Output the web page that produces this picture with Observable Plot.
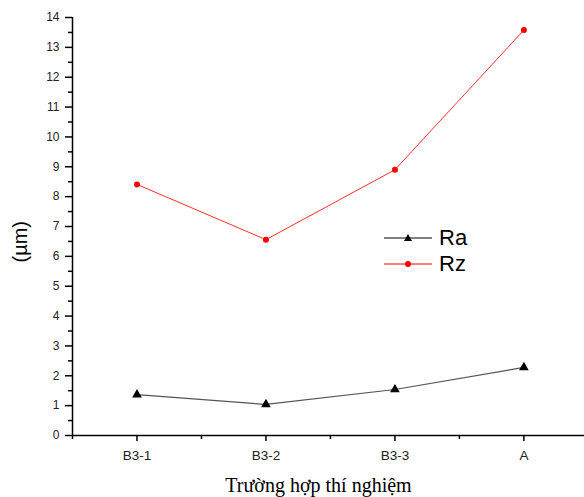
<!DOCTYPE html>
<html><head><meta charset="utf-8">
<script src="https://cdn.jsdelivr.net/npm/d3@7"></script>
<script src="https://cdn.jsdelivr.net/npm/@observablehq/plot@0.6"></script>
<style>
body{margin:0;background:#fff;}
#wrap{position:relative;width:584px;height:497px;}
#legend{position:absolute;left:384px;top:225px;font-family:"Liberation Sans",Arial,sans-serif;font-size:22px;}
#legend div{display:flex;align-items:center;height:26px;}
</style>
</head><body>
<div id="wrap"><div id="chart"></div>
<div id="legend"></div></div>
<script>
const categories = ["B3-1","B3-2","B3-3","A"];
const raValues = [1.37, 1.04, 1.54, 2.28];
const rzValues = [8.41, 6.56, 8.90, 13.58];
const yTicks = [0,1,2,3,4,5,6,7,8,9,10,11,12,13,14];

const ra = categories.map((c,i)=>({i:i+1, v:raValues[i]}));
const rz = categories.map((c,i)=>({i:i+1, v:rzValues[i]}));
const font = "'Liberation Sans', Arial, sans-serif";

const chart = Plot.plot({
  width:584, height:497,
  marginLeft:72, marginRight:0, marginTop:17, marginBottom:62,
  style:{fontFamily:font, fontSize:"12px", color:"#000", background:"#fff"},
  x:{type:"linear", domain:[0.5, 4.47]},
  y:{domain:[0,14]},
  marks:[
    Plot.axisY({ticks:yTicks, tickSize:7, tickPadding:6, fontSize:12, label:null, strokeWidth:1.5, fill:"#222"}),
    Plot.axisY({ticks:d3.range(0.5,14,1), tickSize:4, tickFormat:()=>"", label:null, strokeWidth:1.5}),
    Plot.axisX({ticks:[1,2,3,4], tickFormat:d=>categories[d-1], tickSize:6, tickPadding:9, fontSize:13.5, label:null, strokeWidth:1.5, fill:"#222"}),
    Plot.axisX({ticks:[0.5,1.5,2.5,3.5], tickSize:4, tickFormat:()=>"", label:null, strokeWidth:1.5}),
    Plot.ruleX([0.5], {stroke:"#000", strokeWidth:1.5}),
    Plot.ruleY([0], {stroke:"#000", strokeWidth:1.5}),
    Plot.line(ra, {x:"i", y:"v", stroke:"#555", strokeWidth:1.2}),
    Plot.dot(ra, {x:"i", y:"v", symbol:"triangle", r:3.6, fill:"#000", stroke:"none"}),
    Plot.line(rz, {x:"i", y:"v", stroke:"#ff3030", strokeWidth:1}),
    Plot.dot(rz, {x:"i", y:"v", r:3, fill:"#ff0000", stroke:"none"}),
    Plot.text(["(µm)"], {frameAnchor:"left", dx:-52, dy:36, rotate:-90, fontSize:20, fill:"#000"}),
    Plot.text(["Trường hợp thí nghiệm"], {frameAnchor:"bottom", dy:56, dx:-10, fontSize:20, fontFamily:"'Liberation Serif', 'Times New Roman', serif", fill:"#000"})
  ]
});
document.getElementById("chart").appendChild(chart);

const legendItems = [
  {name:"Ra", stroke:"#000", fill:"#000", sym:"tri"},
  {name:"Rz", stroke:"#ff0000", fill:"#ff0000", sym:"dot"}
];
const leg = document.getElementById("legend");
legendItems.forEach(it=>{
  const row = document.createElement("div");
  const marker = it.sym==="tri"
    ? `<path d="M24,3 L28,10 L20,10 Z" fill="${it.fill}"/>`
    : `<circle cx="24" cy="7" r="3" fill="${it.fill}"/>`;
  row.innerHTML = `<svg width="48" height="14"><line x1="0" x2="48" y1="7" y2="7" stroke="${it.stroke}" stroke-width="1"/>${marker}</svg><span style="margin-left:7px">${it.name}</span>`;
  leg.appendChild(row);
});
</script>
</body></html>
